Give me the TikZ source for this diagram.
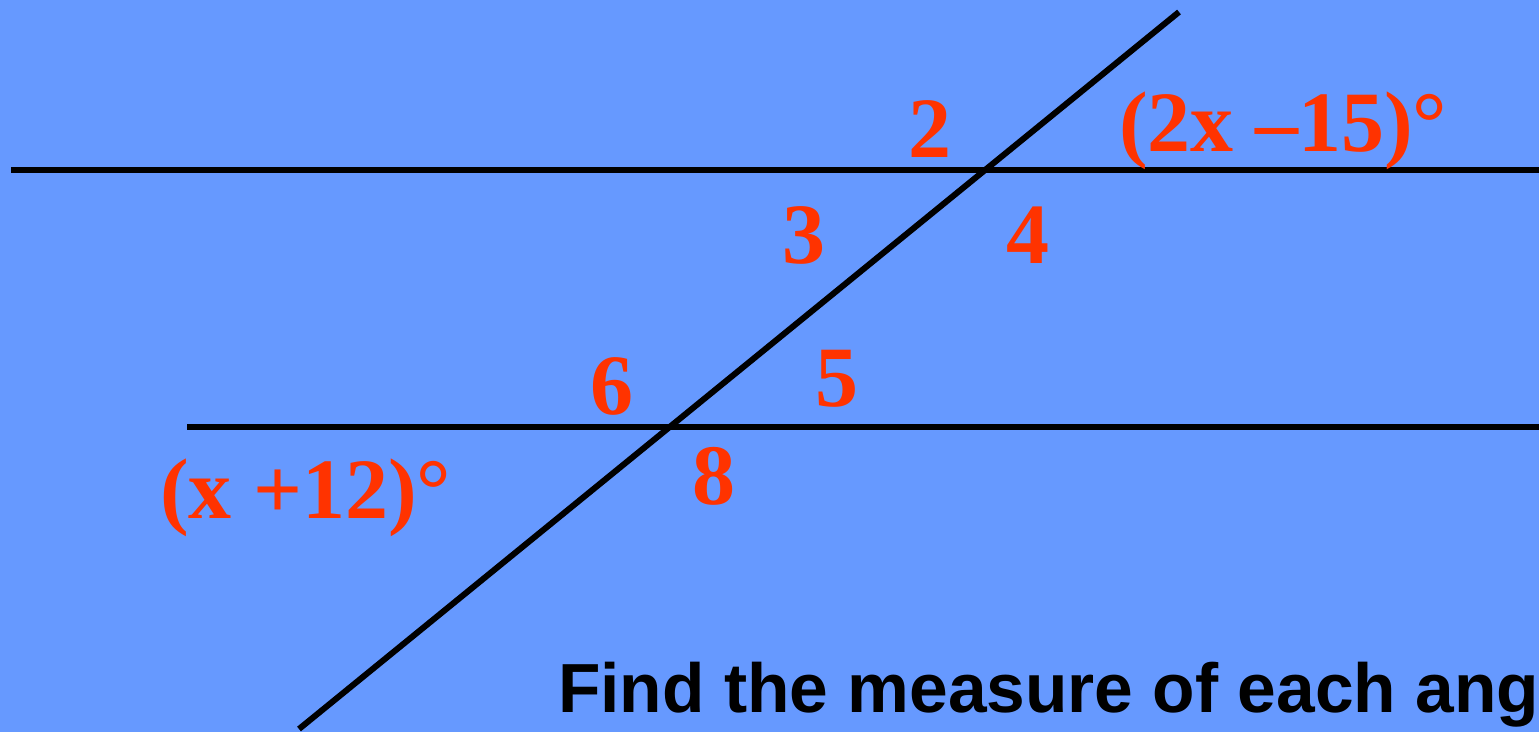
\documentclass[tikz,border=0pt]{standalone}
\usepackage{fontspec}
\setmainfont{Liberation Serif}
\newfontfamily\labelsans{Liberation Sans}
\definecolor{bgblue}{HTML}{6699FF}
\definecolor{lblred}{HTML}{FF3300}
\begin{document}
\begin{tikzpicture}[x=1pt,y=-1pt,
  lineblk/.style={line width=6pt,black},
  anglbl/.style={inner sep=0pt,anchor=base west,text=lblred,font=\bfseries\fontsize{86}{90}\selectfont},
  question/.style={inner sep=0pt,anchor=base west,text=black,font=\labelsans\bfseries\fontsize{69.5}{72}\selectfont}]
\fill[bgblue] (0,0) rectangle (1539,732);
\useasboundingbox (0,0) rectangle (1539,732);
\clip (0,0) rectangle (1539,732);
% coordinates
\coordinate (tl) at (11,170);
\coordinate (tr) at (1539,170);
\coordinate (bl) at (187,427);
\coordinate (br) at (1539,427);
\coordinate (ttop) at (1179,12);
\coordinate (tbot) at (299,729);
\draw[lineblk] (tl) -- (tr);
\draw[lineblk] (bl) -- (br);
\draw[lineblk] (tbot) -- (ttop);
% labels
\node[anglbl] (a2) at (908,157) {2};
\node[anglbl] (e1) at (1119,151) {(2x –15)°};
\node[anglbl] (a3) at (782,263) {3};
\node[anglbl] (a4) at (1006,263) {4};
\node[anglbl] (a6) at (590,414) {6};
\node[anglbl] (a5) at (815,406) {5};
\node[anglbl] (a8) at (692,504) {8};
\node[anglbl] (e2) at (160,518) {(x +12)°};
\node[question] (q) at (558,712) {Find the measure of each ang};
\end{tikzpicture}
\end{document}
